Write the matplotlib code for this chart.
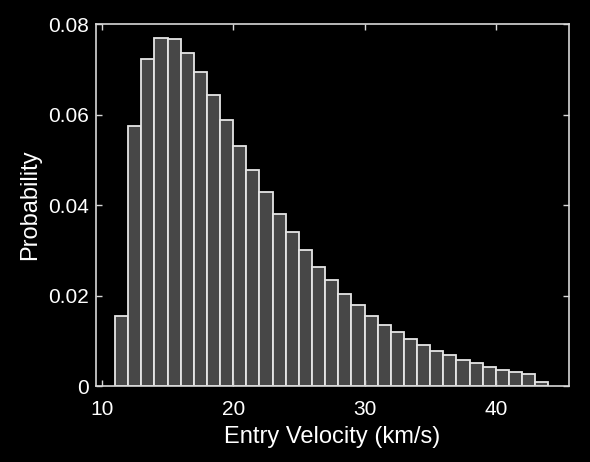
#!/usr/bin/env python3
"""Histogram of entry velocity, dark background."""

import matplotlib
import matplotlib.pyplot as plt
import numpy as np

matplotlib.use("Agg")

plt.rcParams.update(
    {
        "font.family": ["Liberation Sans", "DejaVu Sans"],
        "font.size": 12,
        "text.color": "white",
        "axes.labelcolor": "white",
        "xtick.color": "white",
        "ytick.color": "white",
    }
)

# Bin edges (km/s) and probability per bin
bin_start = 11.0
bin_width = 1.0
probability = [
    0.0155, 0.0575, 0.0722, 0.0769, 0.0767, 0.0737, 0.0695, 0.0643,
    0.0587, 0.0531, 0.0478, 0.0429, 0.0380, 0.0340, 0.0301, 0.0264,
    0.0234, 0.0204, 0.0179, 0.0155, 0.0135, 0.0119, 0.0104, 0.0090,
    0.0077, 0.0068, 0.0058, 0.0050, 0.0043, 0.0035, 0.0031, 0.0027,
    0.0009,
]
x_ticks = [10, 20, 30, 40]
y_ticks = [0, 0.02, 0.04, 0.06, 0.08]
y_tick_labels = ["0", "0.02", "0.04", "0.06", "0.08"]


def create_plot():
    fig = plt.figure(figsize=(5.9, 4.62), dpi=100, facecolor="black")
    ax = fig.add_axes([0.1627, 0.1645, 0.8017, 0.7835], facecolor="black")

    lefts = bin_start + bin_width * np.arange(len(probability))
    ax.bar(lefts, probability, width=bin_width, align="edge",
           color="#474747", edgecolor="#e6e6e6", linewidth=1.3)

    ax.set_xlim(9.55, 45.57)
    ax.set_ylim(0, 0.08)
    ax.set_xticks(x_ticks)
    ax.set_yticks(y_ticks)
    ax.set_yticklabels(y_tick_labels)

    for spine in ax.spines.values():
        spine.set_color("#d8d8d8")
        spine.set_linewidth(1.2)

    ax.tick_params(direction="in", length=4, width=1, colors="#d8d8d8",
                   labelcolor="white", labelsize=15, top=True, right=True)
    ax.tick_params(axis="x", pad=10)
    ax.tick_params(axis="y", pad=5)

    ax.set_xlabel("Entry Velocity (km/s)", fontsize=17, labelpad=5)
    ax.set_ylabel("Probability", fontsize=17, labelpad=5)
    return fig


def main():
    fig = create_plot()
    fig.savefig("out.png", dpi=100, facecolor="black")
    plt.close(fig)


if __name__ == "__main__":
    main()
